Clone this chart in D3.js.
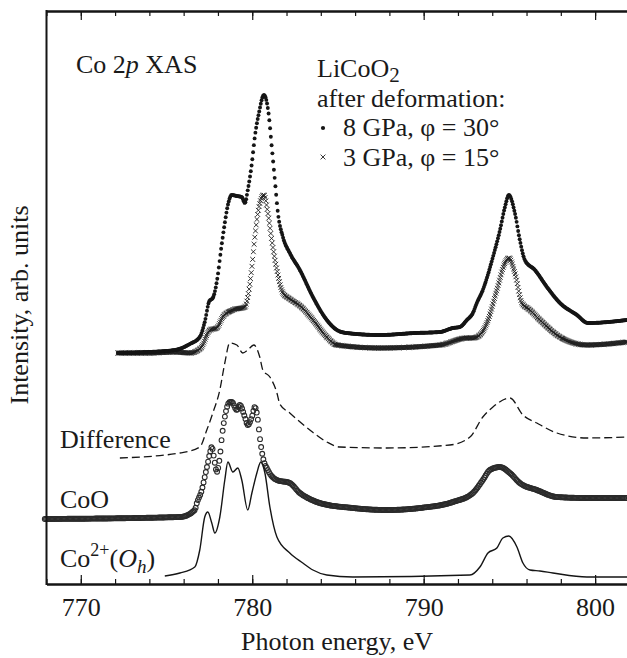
<!DOCTYPE html>
<html>
<head>
<meta charset="utf-8">
<script src="https://cdn.jsdelivr.net/npm/d3@7"></script>
<style>
  body { margin: 0; background: #fff; }
  svg { display: block; }
  text { font-family: "Liberation Serif", "Times New Roman", serif; fill: #1a1a1a; }
</style>
</head>
<body>
<div id="chart"></div>
<script>
// spectra: [photon energy (eV), intensity (arb. units)]
const licoo2_8gpa = [
  [772.16, 231], [774.0, 232], [775.5, 234], [776.36, 240], [776.94, 247], [777.23, 262],
  [777.5, 283], [777.7, 286], [777.95, 304], [778.2, 337], [778.4, 361], [778.58, 379],
  [778.8, 389], [779.1, 388], [779.39, 387], [779.57, 381], [779.74, 394], [779.98, 421],
  [780.15, 447], [780.39, 471], [780.68, 489], [780.95, 471], [781.14, 437], [781.32, 404],
  [781.5, 371], [781.79, 347], [782.19, 331], [782.78, 314], [783.54, 287], [784.35, 264],
  [784.94, 254], [785.5, 251], [787.44, 249], [789.5, 251], [790.95, 252], [791.7, 256],
  [792.11, 257], [792.52, 264], [792.87, 271], [793.1, 281], [793.45, 294], [794.04, 327],
  [794.45, 354], [794.74, 377], [794.97, 389], [795.32, 371], [795.61, 344], [795.9, 324],
  [796.49, 314], [797.19, 297], [797.95, 281], [798.94, 269], [799.58, 261], [801.86, 264]
];

const licoo2_3gpa = [
  [772.16, 231], [774.0, 231], [775.5, 232], [776.36, 231], [777.0, 236], [777.53, 254],
  [777.93, 256], [778.28, 267], [778.87, 274], [779.57, 277], [779.74, 287], [779.98, 317],
  [780.15, 347], [780.33, 371], [780.68, 389], [780.91, 371], [781.14, 344], [781.44, 314],
  [781.79, 291], [782.2, 285], [782.8, 278], [783.5, 265], [784.35, 247], [784.94, 239],
  [787.44, 236], [790.95, 239], [792.52, 246], [792.87, 246], [793.28, 249], [793.69, 261],
  [794.27, 294], [794.74, 321], [794.97, 326], [795.32, 311], [795.73, 281], [796.2, 274],
  [796.78, 264], [797.95, 247], [799.52, 239], [801.86, 242]
];

const difference = [
  [772.28, 126], [775.78, 131], [776.94, 137], [777.35, 154], [777.7, 171], [778.11, 194],
  [778.4, 221], [778.69, 241], [779.1, 239], [779.45, 231], [779.74, 234], [780.09, 239],
  [780.44, 227], [780.62, 214], [781.03, 207], [781.44, 191], [781.61, 180], [782.19, 171],
  [783.36, 154], [784.35, 142], [785.11, 137], [787.85, 136], [791.53, 139], [792.7, 147],
  [793.45, 167], [794.04, 177], [795.03, 186], [795.79, 169], [796.6, 161], [797.77, 151],
  [799.52, 146], [801.86, 147]
];

const coo = [
  [767.9, 65], [775.78, 67], [776.65, 74], [776.77, 81], [777.06, 94], [777.23, 107],
  [777.41, 121], [777.53, 131], [777.64, 137], [777.82, 121], [777.93, 112], [778.11, 127],
  [778.23, 147], [778.4, 167], [778.69, 182], [778.81, 182], [779.1, 174], [779.28, 179],
  [779.57, 167], [779.74, 159], [779.98, 167], [780.15, 177], [780.33, 164], [780.44, 147],
  [780.62, 127], [780.91, 114], [781.44, 104], [782.19, 101], [782.78, 91], [783.36, 85],
  [783.94, 81], [785.87, 76], [787.85, 74], [789.78, 76], [791.7, 82], [792.87, 91],
  [793.45, 104], [793.86, 114], [794.45, 117], [795.03, 111], [795.61, 101], [796.6, 94],
  [797.77, 87], [799.52, 86], [801.86, 86]
];

const co2_oh = [
  [774.9, 8], [775.78, 11], [776.65, 17], [776.94, 34], [777.23, 67], [777.41, 72],
  [777.64, 61], [777.82, 51], [778.11, 67], [778.4, 104], [778.58, 122], [778.87, 112],
  [779.16, 116], [779.39, 104], [779.74, 74], [779.98, 91], [780.27, 111], [780.5, 122],
  [780.74, 111], [781.03, 77], [781.44, 47], [782.19, 31], [782.95, 21], [783.54, 14],
  [784.35, 9], [785.87, 7], [792.7, 9], [793.28, 17], [793.75, 31], [794.27, 36],
  [794.62, 46], [794.97, 48], [795.44, 37], [795.79, 21], [796.2, 14], [796.78, 13],
  [797.54, 11], [799.52, 7], [801.86, 7]
];

const major_ticks = [770, 780, 790, 800];
const minor_ticks = d3.range(768, 803, 2);

const width = 627, height = 658;
const margin = {top: 11, bottom: 584, left: 46.5, right: 629.4};
const font_size = 26;
const ink = '#151515';

const svg = d3.select('#chart').append('svg')
  .attr('width', width)
  .attr('height', height);

const x = d3.scaleLinear().domain([768, 802]).range([margin.left, margin.right]);
const y = d3.scaleLinear().domain([0, 573]).range([margin.bottom, margin.top]);

const line = d3.line()
  .x(d => x(d[0]))
  .y(d => y(d[1]))
  .curve(d3.curveMonotoneX);

// markers are placed every `step` px of photon energy along the smoothed spectrum
function sampleAlong(data, step){
  const guide = svg.append('path')
    .attr('d', line(data))
    .attr('fill', 'none')
    .attr('stroke', 'none');
  const node = guide.node();
  const total = node.getTotalLength();
  const pts = [];
  let next = -Infinity;
  for(let l = 0; l <= total; l += 0.2){
    const p = node.getPointAtLength(l);
    if(p.x >= next){
      pts.push([p.x, p.y]);
      next = p.x + step;
    }
  }
  guide.remove();
  return pts;
}

const plot = svg.append('g').attr('class', 'spectra');

// CoO: open circles, dense enough to merge into a thick band
plot.append('g').attr('class', 'coo')
  .selectAll('circle')
  .data(sampleAlong(coo, 1.1))
  .join('circle')
  .attr('cx', d => d[0])
  .attr('cy', d => d[1])
  .attr('r', 2.4)
  .attr('fill', 'none')
  .attr('stroke', '#2b2b2b')
  .attr('stroke-width', 1.1);

plot.append('path')
  .attr('class', 'co2_oh')
  .attr('d', line(co2_oh))
  .attr('fill', 'none')
  .attr('stroke', ink)
  .attr('stroke-width', 1.4);

plot.append('path')
  .attr('class', 'difference')
  .attr('d', line(difference))
  .attr('fill', 'none')
  .attr('stroke', ink)
  .attr('stroke-width', 1.3)
  .attr('stroke-dasharray', '8,4');

const cross_path = 'M-2.4,-2.4L2.4,2.4M-2.4,2.4L2.4,-2.4';

plot.append('g').attr('class', 'gpa3')
  .selectAll('path')
  .data(sampleAlong(licoo2_3gpa, 0.7))
  .join('path')
  .attr('d', cross_path)
  .attr('transform', d => `translate(${d[0]},${d[1]})`)
  .attr('fill', 'none')
  .attr('stroke', '#1e1e1e')
  .attr('stroke-width', 0.9);

plot.append('g').attr('class', 'gpa8')
  .selectAll('circle')
  .data(sampleAlong(licoo2_8gpa, 0.75))
  .join('circle')
  .attr('cx', d => d[0])
  .attr('cy', d => d[1])
  .attr('r', 1.95)
  .attr('fill', ink);

// frame + axes
const axes = svg.append('g').attr('class', 'axes');

axes.append('g')
  .attr('transform', `translate(0,${margin.bottom})`)
  .call(d3.axisBottom(x).tickValues(minor_ticks).tickSize(-5).tickSizeOuter(0).tickFormat(''));

axes.append('g')
  .attr('class', 'x_major')
  .attr('transform', `translate(0,${margin.bottom})`)
  .call(d3.axisBottom(x).tickValues(major_ticks).tickSize(-9).tickSizeOuter(0).tickPadding(14).tickFormat(d3.format('d')));

axes.append('g')
  .attr('transform', `translate(0,${margin.top})`)
  .call(d3.axisTop(x).tickValues(minor_ticks).tickSize(-5).tickSizeOuter(0).tickFormat(''));

axes.append('g')
  .attr('transform', `translate(0,${margin.top})`)
  .call(d3.axisTop(x).tickValues(major_ticks).tickSize(-9).tickSizeOuter(0).tickFormat(''));

axes.selectAll('.domain').attr('stroke', ink).attr('stroke-width', 2);
axes.selectAll('.tick line').attr('stroke', ink).attr('stroke-width', 1.2);
axes.selectAll('.x_major text')
  .attr('font-size', font_size)
  .attr('font-family', '"Liberation Serif", "Times New Roman", serif')
  .attr('fill', ink);

axes.append('line')
  .attr('x1', margin.left).attr('x2', margin.left)
  .attr('y1', margin.top - 1).attr('y2', margin.bottom + 1)
  .attr('stroke', ink)
  .attr('stroke-width', 2);

// axis titles
svg.append('text')
  .attr('x', 337)
  .attr('y', 650)
  .attr('text-anchor', 'middle')
  .attr('font-size', font_size)
  .text('Photon energy, eV');

svg.append('text')
  .attr('transform', 'translate(28,305) rotate(-90)')
  .attr('text-anchor', 'middle')
  .attr('font-size', font_size)
  .text('Intensity, arb. units');

// annotations
const title = svg.append('text').attr('x', 76).attr('y', 73).attr('font-size', font_size);
title.append('tspan').text('Co 2');
title.append('tspan').attr('font-style', 'italic').text('p');
title.append('tspan').text(' XAS');

const sample = svg.append('text').attr('x', 317).attr('y', 77).attr('font-size', font_size);
sample.append('tspan').text('LiCoO');
sample.append('tspan').attr('dy', 5).attr('font-size', 21).text('2');

svg.append('text').attr('x', 317).attr('y', 107).attr('font-size', font_size).text('after deformation:');
svg.append('text').attr('x', 343).attr('y', 136).attr('font-size', font_size).text('8 GPa, φ = 30°');
svg.append('text').attr('x', 343).attr('y', 166).attr('font-size', font_size).text('3 GPa, φ = 15°');

svg.append('circle').attr('cx', 323).attr('cy', 128).attr('r', 2.1).attr('fill', ink);
svg.append('path').attr('d', cross_path).attr('transform', 'translate(323,157)')
  .attr('fill', 'none').attr('stroke', '#222').attr('stroke-width', 0.9);

svg.append('text').attr('x', 60).attr('y', 448).attr('font-size', font_size).text('Difference');
svg.append('text').attr('x', 60).attr('y', 508).attr('font-size', font_size).text('CoO');

const ref = svg.append('text').attr('x', 60).attr('y', 567).attr('font-size', font_size);
ref.append('tspan').text('Co');
ref.append('tspan').attr('dy', -11).attr('font-size', 18).text('2+');
ref.append('tspan').attr('dy', 11).text('(');
ref.append('tspan').attr('font-style', 'italic').text('O');
ref.append('tspan').attr('dy', 6).attr('font-size', 19).attr('font-style', 'italic').text('h');
ref.append('tspan').attr('dy', -6).text(')');
</script>
</body>
</html>
